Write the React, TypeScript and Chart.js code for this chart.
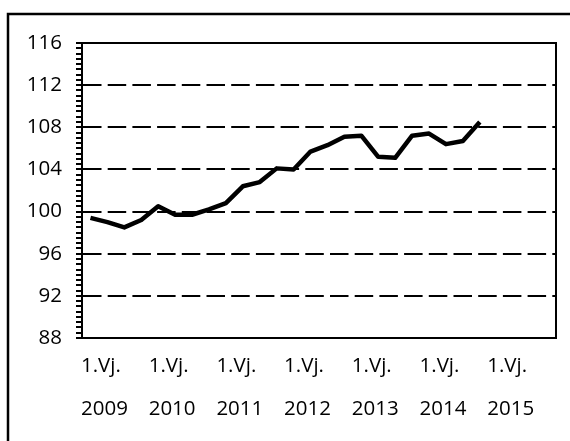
import { useEffect, useRef } from "react";
import { Chart, registerables } from "chart.js";

Chart.register(...registerables);

const years = ["2009", "2010", "2011", "2012", "2013", "2014", "2015"];
const quarters = ["1.Vj.", "2.Vj.", "3.Vj.", "4.Vj."];
const indexValues = [
  99.4, 99.0, 98.5, 99.2, 100.5, 99.7, 99.7, 100.2, 100.8, 102.4, 102.8, 104.1,
  104.0, 105.7, 106.3, 107.1, 107.2, 105.2, 105.1, 107.2, 107.4, 106.4, 106.7, 108.5,
];
const yMin = 88;
const yMax = 116;
const yMajorStep = 4;
const yMinorStep = 0.5;

const categories = years.flatMap((y) => quarters.map((q) => [q, y]));

const FONT = "'Open Sans', sans-serif";

const framePlugin = {
  id: "frame",
  beforeDraw(chart: any) {
    const ctx = chart.ctx;
    ctx.save();
    ctx.fillStyle = "#fff";
    ctx.fillRect(0, 0, chart.width, chart.height);
    ctx.strokeStyle = "#000";
    ctx.lineWidth = 2.5;
    ctx.strokeRect(8, 14, 700, 600);
    ctx.restore();
  },
  afterDraw(chart: any) {
    const { ctx, chartArea } = chart;
    ctx.save();
    ctx.strokeStyle = "#000";
    ctx.lineWidth = 2;
    ctx.setLineDash([]);
    ctx.strokeRect(
      chartArea.left,
      chartArea.top,
      chartArea.right - chartArea.left,
      chartArea.bottom - chartArea.top
    );
    ctx.restore();
  },
};

export default function App() {
  const ref = useRef<HTMLCanvasElement | null>(null);

  useEffect(() => {
    if (!ref.current) return;
    const isMajor = (v: number) => Math.abs(v % yMajorStep) < 1e-9;
    const chart = new Chart(ref.current, {
      type: "line",
      data: {
        labels: categories,
        datasets: [
          {
            data: indexValues,
            borderColor: "#000",
            borderWidth: 4.5,
            pointRadius: 0,
            tension: 0,
            borderJoinStyle: "round",
            fill: false,
          },
        ],
      },
      options: {
        animation: false,
        responsive: false,
        events: [],
        layout: { padding: { left: 0, top: 43, right: 14, bottom: 0 } },
        plugins: {
          legend: { display: false },
          tooltip: { enabled: false },
          title: { display: false },
        },
        scales: {
          x: {
            type: "category",
            offset: true,
            grid: { display: false, drawTicks: false },
            border: { display: true, color: "#000", width: 2 },
            ticks: {
              autoSkip: false,
              maxRotation: 0,
              minRotation: 0,
              align: "start",
              labelOffset: -9.5,
              padding: 6.5,
              color: "#000",
              font: { family: FONT, size: 20.5, lineHeight: "43px" },
              callback: function (this: any, value: any, i: number) {
                return i % 4 === 0 ? categories[i] : "";
              },
            },
            afterFit: (scale: any) => {
              scale.height = 103;
            },
          },
          y: {
            type: "linear",
            min: yMin,
            max: yMax,
            grid: {
              color: (c: any) => (c.tick && isMajor(c.tick.value) ? "#000" : "rgba(0,0,0,0)"),
              lineWidth: (c: any) => (c.tick && isMajor(c.tick.value) ? 2 : 0),
              tickWidth: 2,
              tickColor: "#000",
              tickLength: 6,
              drawTicks: true,
            },
            border: { display: true, color: "#000", width: 2, dash: [18.5, 6.2] },
            ticks: {
              stepSize: yMinorStep,
              autoSkip: false,
              padding: 14,
              color: "#000",
              font: { family: FONT, size: 20.5 },
              callback: (v: any) => (isMajor(Number(v)) ? String(v) : ""),
            },
            afterFit: (scale: any) => {
              scale.width = 82;
            },
          },
        },
      },
      plugins: [framePlugin],
    });
    return () => chart.destroy();
  }, []);

  return (
    <div style={{ position: "absolute", left: 0, top: 0, width: 570, height: 441 }}>
      <canvas ref={ref} width={570} height={441} style={{ display: "block" }} />
    </div>
  );
}
